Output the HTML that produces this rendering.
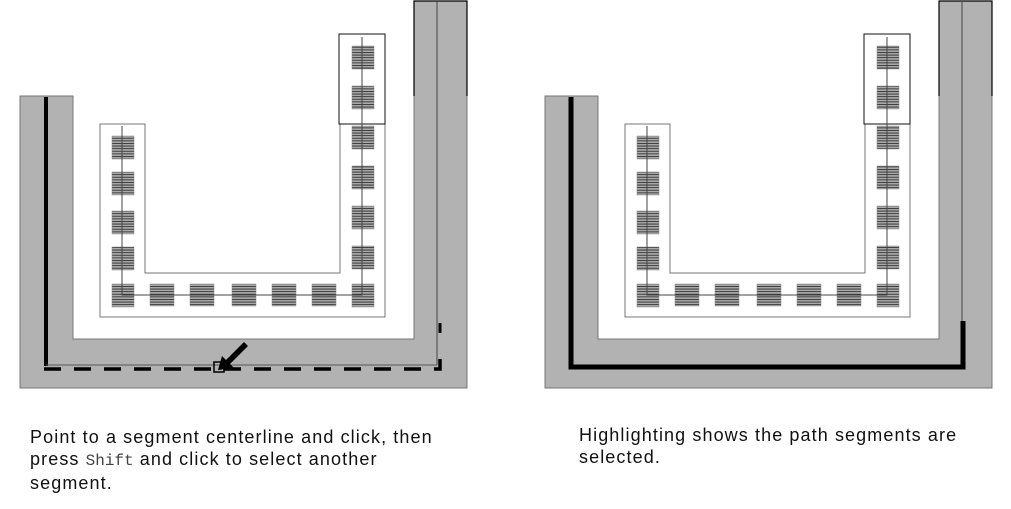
<!DOCTYPE html>
<html><head><meta charset="utf-8"><style>
body{margin:0;background:#fff;width:1011px;height:509px;overflow:hidden;position:relative;font-family:"Liberation Sans",sans-serif}
.t{position:absolute;font-size:18px;line-height:22px;color:#111;letter-spacing:1.1px;white-space:nowrap}
code{font-family:"Liberation Mono",monospace;font-size:16px;color:#444;letter-spacing:0}
</style></head><body>
<svg width="1011" height="509" style="position:absolute;left:0;top:0">
<defs>
<pattern id="h" width="4" height="2.6" patternUnits="userSpaceOnUse"><rect width="4" height="2.6" fill="#aaa"/><rect width="4" height="0.9" fill="#333"/></pattern>
<g id="base">
<path d="M20 96 H73 V339 H414 V1 H467 V388 H20 Z" fill="#b2b2b2" stroke="#777" stroke-width="1"/>
<path d="M414 96 V1 H467 V96" fill="none" stroke="#000" stroke-width="1.2"/>
<line x1="437" y1="2" x2="437" y2="365" stroke="#444" stroke-width="1"/>
<path d="M100 124 H145 V273 H340 V124 H385 V317 H100 Z" fill="#fff" stroke="#777" stroke-width="1"/>
<rect x="339" y="34" width="46" height="90" fill="none" stroke="#111" stroke-width="1"/>
<g fill="url(#h)" stroke="#888" stroke-width="0.5">
<rect x="112" y="136" width="22" height="23"/><rect x="112" y="172" width="22" height="23"/><rect x="112" y="211" width="22" height="23"/><rect x="112" y="247" width="22" height="23"/>
<rect x="112" y="284" width="22" height="23"/><rect x="150" y="284" width="24" height="22"/><rect x="190" y="284" width="24" height="22"/><rect x="232" y="284" width="24" height="22"/><rect x="272" y="284" width="24" height="22"/><rect x="312" y="284" width="24" height="22"/>
<rect x="352" y="284" width="22" height="23"/><rect x="352" y="246" width="22" height="23"/><rect x="352" y="206" width="22" height="23"/><rect x="352" y="166" width="22" height="23"/><rect x="352" y="126" width="22" height="23"/><rect x="352" y="86" width="22" height="23"/><rect x="352" y="46" width="22" height="23"/>
</g>
<path d="M122 126 V295 H362 V37" fill="none" stroke="#444" stroke-width="1"/>
</g>
</defs>
<use href="#base"/>
<line x1="46" y1="97" x2="46" y2="366" stroke="#000" stroke-width="4"/>
<line x1="46" y1="365" x2="437" y2="365" stroke="#555" stroke-width="1"/>
<path d="M44 369 H440 V359" fill="none" stroke="#000" stroke-width="3.5" stroke-dasharray="17,13"/>
<line x1="440" y1="323" x2="440" y2="333" stroke="#000" stroke-width="3"/>
<rect x="214" y="362" width="10" height="10" fill="none" stroke="#000" stroke-width="1.5"/>
<polygon points="218,370 222,356 226,360 244,342 248,346 230,364 234,368" fill="#000"/>
<g transform="translate(525,0)"><use href="#base"/></g>
<path d="M571 97 V367 H963 V321" fill="none" stroke="#000" stroke-width="5"/>
</svg>
<div class="t" style="left:30px;top:426px">Point to a segment centerline and click, then<br>press <code>Shift</code> and click to select another<br>segment.</div>
<div class="t" style="left:579px;top:424px">Highlighting shows the path segments are<br>selected.</div>
</body></html>
